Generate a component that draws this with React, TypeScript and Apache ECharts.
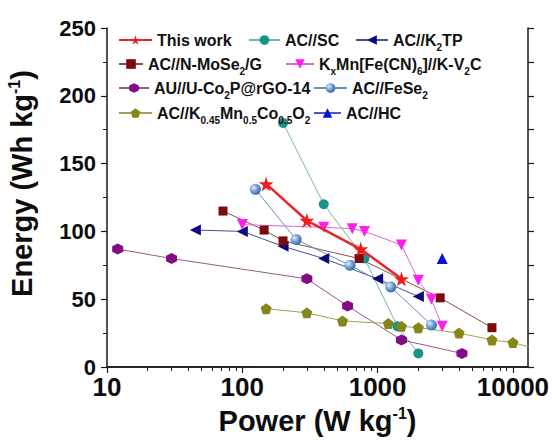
import React, { useEffect, useRef } from "react";
import * as echarts from "echarts";

const FONT = '"Liberation Sans", Arial, Helvetica, sans-serif';

// Ragone data: power density (W/kg) and energy density (Wh/kg) per device
const thisWorkPower = [150, 300, 750, 1500];
const thisWorkEnergy = [135, 108, 87, 65];

const scPower = [200, 400, 800, 1400, 2000];
const scEnergy = [180, 120, 80, 30, 10];

const k2tpPower = [45, 100, 200, 400, 1000, 2000];
const k2tpEnergy = [101, 100, 89, 80, 65, 52];

const moSe2Power = [72, 145, 200, 730, 2900, 7000];
const moSe2Energy = [115, 101, 93, 80, 51, 29];

const kmfPower = [100, 400, 650, 800, 1500, 2000, 2500, 3000];
const kmfEnergy = [105, 103, 102, 100, 90, 64, 50, 30];

const co2pPower = [12, 30, 300, 600, 1500, 4200];
const co2pEnergy = [87, 80, 65, 45, 20, 10];

const feSe2Power = [125, 250, 625, 1250, 2500];
const feSe2Energy = [131, 94, 75, 59, 31];

const kmcoPower = [150, 300, 550, 1200, 1500, 2000, 4000, 7000, 10000, 20000];
const kmcoEnergy = [43, 40, 34, 32, 30, 29, 25, 20, 18, 10];

const hcPower = [3000];
const hcEnergy = [80];

const xTickValues = [10, 100, 1000, 10000];
const yTickValues = [0, 50, 100, 150, 200, 250];

// 2..9 subdivisions of each decade on the power axis
const xMinorTickValues: number[] = [10, 100, 1000].flatMap((d) =>
  [2, 3, 4, 5, 6, 7, 8, 9].map((m) => m * d)
);

const STAR =
  "path://M50,0 L61,35 L98,35 L68,57 L79,91 L50,70 L21,91 L32,57 L2,35 L39,35 Z";
const HEXAGON = "path://M50,0 L93,25 L93,75 L50,100 L7,75 L7,25 Z";
const PENTAGON = "path://M50,0 L100,38 L81,100 L19,100 L0,38 Z";

const zip = (xs: number[], ys: number[]) => xs.map((x, i) => [x, ys[i]]);

type Spec = {
  name: string;
  label: string;
  power: number[];
  energy: number[];
  color: any;
  lineColor: string;
  lineWidth: number;
  symbol: string;
  symbolSize: number;
  symbolRotate?: number;
  legend: { left: number; top: number; itemWidth: number };
};

const specs: Spec[] = [
  {
    name: "This work",
    label: "This work",
    power: thisWorkPower,
    energy: thisWorkEnergy,
    color: "#ee1c1c",
    lineColor: "#e8262a",
    lineWidth: 2.5,
    symbol: STAR,
    symbolSize: 15,
    legend: { left: 118, top: 40, itemWidth: 33 },
  },
  {
    name: "AC//SC",
    label: "AC//SC",
    power: scPower,
    energy: scEnergy,
    color: "#1b9488",
    lineColor: "#6fb5b0",
    lineWidth: 1,
    symbol: "circle",
    symbolSize: 10,
    legend: { left: 248, top: 40, itemWidth: 31 },
  },
  {
    name: "AC//K2TP",
    label: "AC//K{s|2}TP",
    power: k2tpPower,
    energy: k2tpEnergy,
    color: "#0a0a80",
    lineColor: "#4a4f96",
    lineWidth: 1,
    symbol: "triangle",
    symbolSize: 11,
    symbolRotate: 90,
    legend: { left: 355, top: 40, itemWidth: 32 },
  },
  {
    name: "AC//N-MoSe2/G",
    label: "AC//N-MoSe{s|2}/G",
    power: moSe2Power,
    energy: moSe2Energy,
    color: "#7d0a0a",
    lineColor: "#8e4e50",
    lineWidth: 1,
    symbol: "rect",
    symbolSize: 9,
    legend: { left: 118, top: 64, itemWidth: 24 },
  },
  {
    name: "KxMn[Fe(CN)6]//K-V2C",
    label: "K{s|x}Mn[Fe(CN){s|6}]//K-V{s|2}C",
    power: kmfPower,
    energy: kmfEnergy,
    color: "#ff1ef0",
    lineColor: "#d86ad0",
    lineWidth: 1,
    symbol: "triangle",
    symbolSize: 11,
    symbolRotate: 180,
    legend: { left: 285, top: 64, itemWidth: 28 },
  },
  {
    name: "AU//U-Co2P@rGO-14",
    label: "AU//U-Co{s|2}P@rGO-14",
    power: co2pPower,
    energy: co2pEnergy,
    color: "#850a85",
    lineColor: "#8d5a8c",
    lineWidth: 1,
    symbol: HEXAGON,
    symbolSize: 11,
    legend: { left: 118, top: 88, itemWidth: 30 },
  },
  {
    name: "AC//FeSe2",
    label: "AC//FeSe{s|2}",
    power: feSe2Power,
    energy: feSe2Energy,
    color: {
      type: "radial",
      x: 0.35,
      y: 0.35,
      r: 0.75,
      colorStops: [
        { offset: 0, color: "#e4eef8" },
        { offset: 0.5, color: "#6b9bd0" },
        { offset: 1, color: "#2d5c98" },
      ],
    },
    lineColor: "#6a8fb8",
    lineWidth: 1,
    symbol: "circle",
    symbolSize: 11,
    legend: { left: 313, top: 88, itemWidth: 33 },
  },
  {
    name: "AC//K0.45Mn0.5Co0.5O2",
    label: "AC//K{s|0.45}Mn{s|0.5}Co{s|0.5}O{s|2}",
    power: kmcoPower,
    energy: kmcoEnergy,
    color: "#86861a",
    lineColor: "#a0a050",
    lineWidth: 1,
    symbol: PENTAGON,
    symbolSize: 11,
    legend: { left: 118, top: 113, itemWidth: 33 },
  },
  {
    name: "AC//HC",
    label: "AC//HC",
    power: hcPower,
    energy: hcEnergy,
    color: "#0b10d8",
    lineColor: "#4f56c8",
    lineWidth: 1,
    symbol: "triangle",
    symbolSize: 11,
    legend: { left: 313, top: 113, itemWidth: 27 },
  },
];

const legendText = {
  fontFamily: FONT,
  fontSize: 16,
  fontWeight: "bold" as const,
  color: "#111",
  lineHeight: 24,
  rich: {
    s: {
      fontFamily: FONT,
      fontSize: 10,
      fontWeight: "bold" as const,
      color: "#111",
      lineHeight: 10,
      verticalAlign: "bottom" as const,
    },
  },
};

const X_MIN = 10;
const X_MAX = 12925;

export default function App() {
  const ref = useRef<HTMLDivElement>(null);

  useEffect(() => {
    if (!ref.current) return;
    const chart = echarts.init(ref.current, undefined, { renderer: "svg" });

    const axisColor = "#1a1a1a";
    const axisLine = { show: true, lineStyle: { color: axisColor, width: 1.5 } };

    const option: any = {
      animation: false,
      backgroundColor: "#ffffff",
      grid: {
        left: 107,
        right: 27,
        top: 28,
        bottom: 75,
        containLabel: false,
        outerBoundsMode: "none",
      },
      legend: specs.map((s) => ({
        data: [s.name],
        left: s.legend.left,
        top: s.legend.top - 12,
        itemWidth: s.legend.itemWidth,
        itemHeight: 12,
        padding: 0,
        formatter: () => s.label,
        textStyle: legendText,
        selectedMode: false,
      })),
      xAxis: [
        {
          type: "log",
          logBase: 10,
          min: X_MIN,
          max: X_MAX,
          axisLine,
          axisTick: {
            show: true,
            inside: false,
            length: 6,
            customValues: xTickValues,
            lineStyle: { color: axisColor, width: 1.2 },
          },
          splitLine: { show: false },
          axisLabel: {
            margin: 7,
            fontFamily: FONT,
            fontSize: 26,
            fontWeight: "bold",
            color: "#0d0d0d",
            customValues: xTickValues,
            formatter: (v: number) => String(Math.round(v)),
          },
          name: "Power (W kg{sup|-1})",
          nameLocation: "middle",
          nameGap: 38,
          nameTextStyle: {
            fontFamily: FONT,
            fontSize: 29,
            fontWeight: "bold",
            color: "#0d0d0d",
            rich: {
              sup: { fontFamily: FONT, fontSize: 16, fontWeight: "bold", color: "#0d0d0d", padding: [0, 0, 15, 0] },
            },
          },
        },
        {
          type: "log",
          logBase: 10,
          min: X_MIN,
          max: X_MAX,
          position: "top",
          axisLine,
          axisTick: { show: false },
          axisLabel: { show: false },
          splitLine: { show: false },
        },
        {
          // minor ticks of the power axis
          type: "log",
          logBase: 10,
          min: X_MIN,
          max: X_MAX,
          position: "bottom",
          axisLine: { show: false },
          axisTick: {
            show: true,
            inside: false,
            length: 4,
            customValues: xMinorTickValues,
            lineStyle: { color: axisColor, width: 1 },
          },
          axisLabel: { show: false },
          splitLine: { show: false },
        },
      ],
      yAxis: [
        {
          type: "value",
          min: 0,
          max: 250,
          interval: 50,
          axisLine,
          axisTick: { show: true, inside: false, length: 6, lineStyle: { color: axisColor, width: 1.2 } },
          minorTick: { show: true, splitNumber: 2, length: 4, lineStyle: { color: axisColor, width: 1 } },
          splitLine: { show: false },
          axisLabel: {
            margin: 11,
            fontFamily: FONT,
            fontSize: 22,
            fontWeight: "bold",
            color: "#0d0d0d",
            formatter: (v: number) => (yTickValues.includes(v) ? String(v) : ""),
          },
          name: "Energy (Wh kg{sup|-1})",
          nameLocation: "middle",
          nameGap: 70,
          nameTextStyle: {
            fontFamily: FONT,
            fontSize: 29,
            fontWeight: "bold",
            color: "#0d0d0d",
            padding: [0, 0, 0, 28],
            rich: {
              sup: { fontFamily: FONT, fontSize: 16, fontWeight: "bold", color: "#0d0d0d", padding: [0, 0, 15, 0] },
            },
          },
        },
        {
          type: "value",
          min: 0,
          max: 250,
          interval: 50,
          position: "right",
          axisLine,
          axisTick: { show: true, inside: false, length: 6, lineStyle: { color: axisColor, width: 1.2 } },
          minorTick: { show: true, splitNumber: 2, length: 6, lineStyle: { color: axisColor, width: 1.2 } },
          splitLine: { show: false },
          axisLabel: { show: false },
        },
      ],
      series: specs.map((s) => ({
        name: s.name,
        type: "line",
        xAxisIndex: 0,
        yAxisIndex: 0,
        data: zip(s.power, s.energy),
        symbol: s.symbol,
        symbolSize: s.symbolSize,
        symbolRotate: s.symbolRotate ?? 0,
        showAllSymbol: true,
        clip: true,
        z: s.name === "This work" ? 5 : 3,
        lineStyle: { color: s.lineColor, width: s.lineWidth },
        itemStyle: { color: s.color, borderWidth: 0 },
        emphasis: { disabled: true },
      })),
    };

    chart.setOption(option);
    return () => chart.dispose();
  }, []);

  return (
    <div
      ref={ref}
      style={{ position: "fixed", left: 0, top: 0, width: 555, height: 442, background: "#fff" }}
    />
  );
}
